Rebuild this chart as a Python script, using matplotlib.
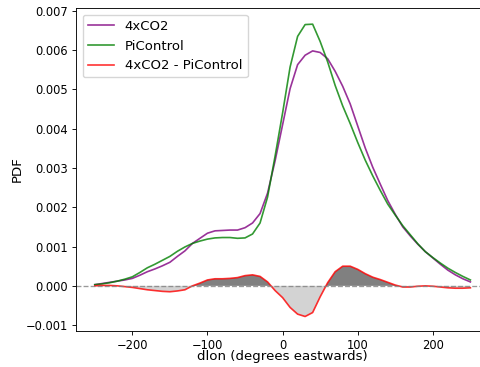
import numpy as np
import matplotlib; matplotlib.use("Agg")
import matplotlib.pyplot as plt

# dlon grid (degrees eastwards), 10 deg bins
dlon = np.arange(-250, 251, 10)

pictl = [0.00003, 0.00005, 0.00008, 0.00012, 0.00017, 0.00023, 0.00034, 0.00046, 0.00055, 0.00065,
         0.00075, 0.00088, 0.00099, 0.00108, 0.00114, 0.00119, 0.00122, 0.00123, 0.00123, 0.00121,
         0.00122, 0.00132, 0.00160, 0.00226, 0.00330, 0.00440, 0.00557, 0.00635, 0.00665, 0.00666,
         0.00622, 0.00570, 0.00510, 0.00458, 0.00413, 0.00365, 0.00320, 0.00280, 0.00243, 0.00208,
         0.00180, 0.00153, 0.00130, 0.00107, 0.00087, 0.00072, 0.00058, 0.00045, 0.00034, 0.00024,
         0.00015]
co2x4 = [0.00003, 0.00006, 0.00009, 0.00012, 0.00015, 0.00019, 0.00027, 0.00036, 0.00043, 0.00051,
         0.00060, 0.00075, 0.00089, 0.00108, 0.00121, 0.00134, 0.00140, 0.00141, 0.00142, 0.00142,
         0.00148, 0.00160, 0.00184, 0.00236, 0.00318, 0.00410, 0.00502, 0.00563, 0.00587, 0.00598,
         0.00594, 0.00578, 0.00546, 0.00508, 0.00463, 0.00407, 0.00351, 0.00302, 0.00259, 0.00217,
         0.00182, 0.00150, 0.00127, 0.00106, 0.00087, 0.00071, 0.00055, 0.00040, 0.00028, 0.00018,
         0.00010]

pictl = np.array(pictl); co2x4 = np.array(co2x4)
diff = co2x4 - pictl

s = 0.8  # everything drawn at 80% scale
plt.rcParams.update({"xtick.major.size": 3.5 * s, "ytick.major.size": 3.5 * s,
                     "xtick.major.pad": 3.5 * s, "ytick.major.pad": 3.5 * s,
                     "xtick.major.width": 0.8 * s, "ytick.major.width": 0.8 * s,
                     "axes.linewidth": 0.8 * s})

fig = plt.figure(figsize=(4.81, 3.67), dpi=100)
ax = fig.add_axes([0.158, 0.098, 0.859, 0.880])

ax.plot(dlon, co2x4, c="purple", alpha=0.8, lw=1.5 * s, label="4xCO2")
ax.plot(dlon, pictl, c="green", alpha=0.8, lw=1.5 * s, label="PiControl")
ax.plot(dlon, diff, c="red", alpha=0.8, lw=1.5 * s, label="4xCO2 - PiControl")
ax.fill_between(dlon, diff, 0, where=diff >= 0, interpolate=True, color="gray", lw=0)
ax.fill_between(dlon, diff, 0, where=diff <= 0, interpolate=True, color="lightgray", lw=0)
ax.axhline(0, ls="--", c="gray", alpha=0.8, lw=1.2 * s)

ax.set_xlim(-275, 275)
ax.set_ylim(-0.00115, 0.00707)
ax.set_yticks(np.arange(-0.001, 0.0071, 0.001))
ax.tick_params(labelsize=8.3)
ax.set_xlabel("dlon (degrees eastwards)", fontsize=9.6, labelpad=-1)
ax.set_ylabel("PDF", fontsize=9.6, labelpad=1.5)
ax.legend(loc="upper left", fontsize=9.5)

fig.savefig("out.png", dpi=100)
